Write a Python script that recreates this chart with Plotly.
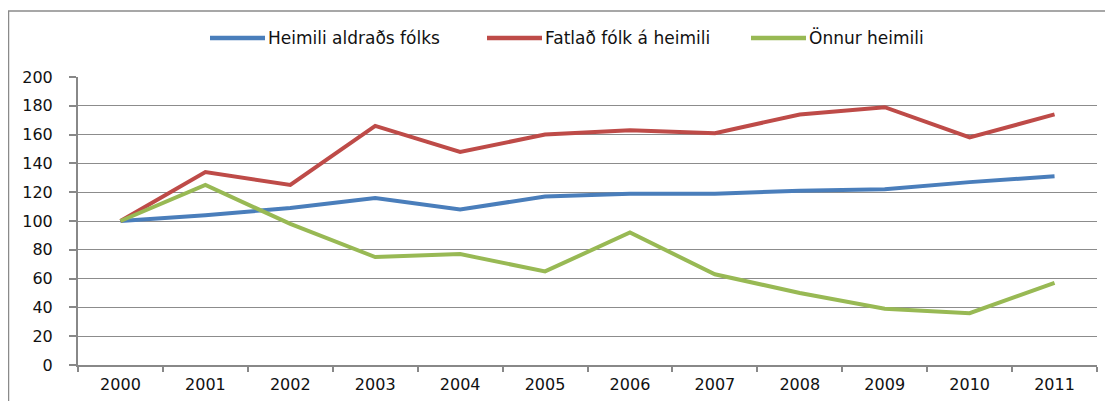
import plotly.graph_objects as go

years = ["2000", "2001", "2002", "2003", "2004", "2005", "2006", "2007", "2008", "2009", "2010", "2011"]
heimili_aldrads = [100, 104, 109, 116, 108, 117, 119, 119, 121, 122, 127, 131]
fatlad_folk = [100, 134, 125, 166, 148, 160, 163, 161, 174, 179, 158, 174]
onnur_heimili = [100, 125, 98, 75, 77, 65, 92, 63, 50, 39, 36, 57]

names = ["Heimili aldraðs fólks", "Fatlað fólk á heimili", "Önnur heimili"]
colors = ["#4A7EBB", "#BE4B48", "#98B954"]
series = [heimili_aldrads, fatlad_folk, onnur_heimili]

W, H = 1113, 401
OX, OY = 8, 7  # page offset of the figure (body margin)
# plot area in screen pixels
P_LEFT, P_RIGHT, P_TOP, P_BOTTOM = 78, 1097, 76, 364
L = P_LEFT - OX
R = W - (P_RIGHT - OX)
T = P_TOP - OY
B = H - (P_BOTTOM - OY)
PW, PH = P_RIGHT - P_LEFT, P_BOTTOM - P_TOP


def px_x(p):
    return (p - P_LEFT) / PW


def px_y(p):
    return (P_BOTTOM - p) / PH


fig = go.Figure()
for n, c, s in zip(names, colors, series):
    fig.add_trace(go.Scatter(x=years, y=s, name=n, mode="lines",
                             line=dict(color=c, width=4), showlegend=False))

fig.update_layout(
    width=W, height=H,
    margin=dict(l=L, r=R, t=T, b=B, autoexpand=False),
    paper_bgcolor="white", plot_bgcolor="white",
    font=dict(family="DejaVu Sans", size=16, color="#111"),
    showlegend=False,
    xaxis=dict(type="category", range=[-0.5, 11.5], tickson="boundaries",
               ticks="outside", ticklen=5, tickcolor="#888", tickwidth=1.5,
               showline=True, linecolor="#888", linewidth=2, showgrid=False,
               tickfont=dict(size=16), ticklabelstandoff=4),
    yaxis=dict(range=[0, 200], dtick=20, tick0=0, ticks="outside", ticklen=7,
               tickcolor="#888", tickwidth=1.5,
               showline=True, linecolor="#888", linewidth=2,
               showgrid=True, gridcolor="#8c8c8c", gridwidth=1.3,
               zeroline=False, tickfont=dict(size=16), ticklabelstandoff=13),
)

# outer chart border
fig.add_shape(type="rect", xref="paper", yref="paper",
              x0=px_x(8.5), x1=px_x(1140), y0=px_y(430), y1=px_y(10),
              line=dict(color="#8a8a8a", width=1.5), fillcolor="rgba(0,0,0,0)", layer="below")

# legend drawn manually (Excel style)
leg_x = [210, 487, 751]
leg_y = 37
for n, c, lx in zip(names, colors, leg_x):
    fig.add_shape(type="line", xref="paper", yref="paper",
                  x0=px_x(lx), x1=px_x(lx + 55), y0=px_y(leg_y), y1=px_y(leg_y),
                  line=dict(color=c, width=4.5))
    fig.add_annotation(xref="paper", yref="paper", x=px_x(lx + 56), y=px_y(leg_y),
                       text=n, showarrow=False, xanchor="left", yanchor="middle",
                       font=dict(family="DejaVu Sans", size=17, color="#111"))

fig.write_html("out.html")
